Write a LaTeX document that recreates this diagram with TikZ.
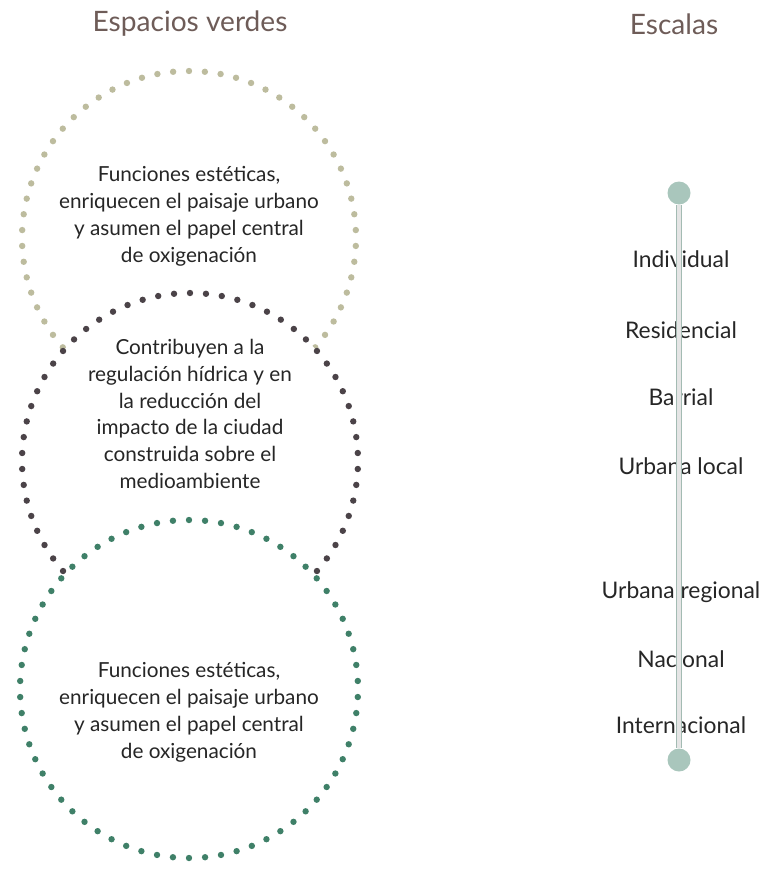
\documentclass[tikz,border=0pt]{standalone}
\usepackage{fontspec}
\setmainfont{Lato}
\usetikzlibrary{positioning}

\definecolor{titlebrown}{HTML}{6E5C58}
\definecolor{dotbeige}{HTML}{BDBC9E}
\definecolor{dotdark}{HTML}{4B4348}
\definecolor{dotteal}{HTML}{3F8068}
\definecolor{scalegreen}{HTML}{A9C6BC}
\definecolor{textgray}{HTML}{262626}

% dotted ring: centre, radius, colour
\newcommand{\dotring}[3]{%
  \begin{scope}[shift={(#1)}]
    \fill[white] (0,0) circle (#2);
    \foreach \a in {0,...,65}
      \fill[#3] (90+\a*5.4545:#2) circle (3.2);
  \end{scope}}

\begin{document}
\begin{tikzpicture}[x=0.02cm, y=-0.02cm,
    title/.style={font=\fontsize{16}{19}\selectfont, text=titlebrown},
    desc/.style={align=center, font=\fontsize{11.8}{15.3}\selectfont, text=textgray},
    level/.style={font=\fontsize{13}{15}\selectfont, text=textgray},
    knob/.style={circle, fill=scalegreen, inner sep=0pt, minimum size=0.46cm}
]
    \useasboundingbox (0,0) rectangle (763,869);

    \node[title] (espacios) at (190,24) {Espacios verdes};
    \node[title] (escalas) at (674,24) {Escalas};

    % the three rings, drawn top to bottom
    \dotring{189,238}{167}{dotbeige}
    \dotring{190,461}{168}{dotdark}
    \dotring{189,689}{169}{dotteal}

    \node[desc] (esteticas) at (189,216)
      {Funciones estéticas,\\enriquecen el paisaje urbano\\y asumen el papel central\\de oxigenación};
    \node[desc] (hidrica) at (190,414)
      {Contribuyen a la\\regulación hídrica y en\\la reducción del\\impacto de la ciudad\\construida sobre el\\medioambiente};
    \node[desc] (oxigeno) at (189,712)
      {Funciones estéticas,\\enriquecen el paisaje urbano\\y asumen el papel central\\de oxigenación};

    % scale
    \node[level] (individual) at (681,259) {Individual};
    \node[level] (residencial) at (681,330) {Residencial};
    \node[level] (barrial) at (681,397) {Barrial};
    \node[level] (ulocal) at (681,466) {Urbana local};
    \node[level] (uregional) at (681,592) {Urbana regional};
    \node[level] (nacional) at (681,659) {Nacional};
    \node[level] (internacional) at (681,725) {Internacional};

    \node[knob] (top) at (679,193) {};
    \node[knob] (bottom) at (679,760) {};
    \draw[scalegreen!85!gray, line width=0.7pt, double=gray!20, double distance=1.8pt]
      (top) -- (bottom);
\end{tikzpicture}
\end{document}
